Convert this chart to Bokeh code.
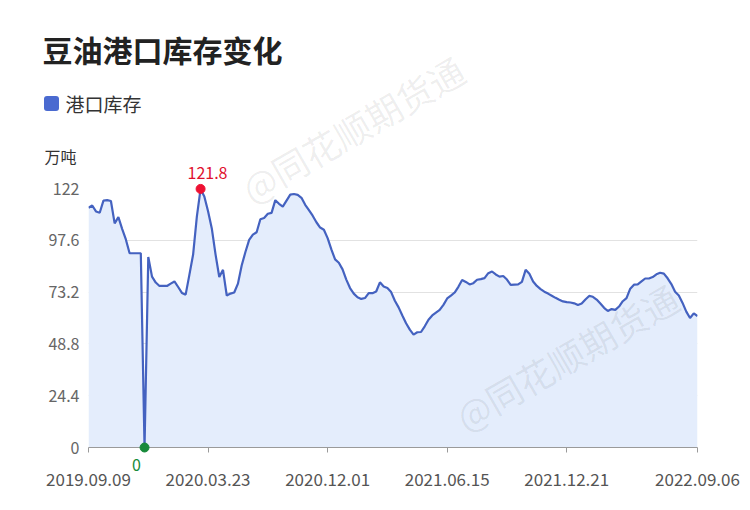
import math
from bokeh.plotting import figure
from bokeh.models import FixedTicker, NumeralTickFormatter, Range1d, Rect
from bokeh.core.properties import value
from bokeh.embed import file_html
from bokeh.resources import INLINE

title = "豆油港口库存变化"
series_name = "港口库存"
unit = "万吨"
watermark = "@同花顺期货通"
tick_idx = [0, 32, 64, 96, 128, 163]
tick_labels = ["2019.09.09", "2020.03.23", "2020.12.01", "2021.06.15", "2021.12.21", "2022.09.06"]
y_ticks = [0, 24.4, 48.8, 73.2, 97.6, 122]
values = [
    112.9, 114.0, 111.2, 110.6, 116.3, 116.5, 116.1, 105.6, 108.5, 103.0,
    98.0, 91.5, 91.5, 91.5, 91.5, 0.0, 89.7, 80.5, 77.7, 76.1,
    76.1, 76.1, 77.2, 78.2, 75.6, 72.8, 72.0, 81.3, 90.9, 108.8,
    121.8, 118.2, 111.3, 103.2, 91.0, 80.3, 83.7, 71.6, 72.5, 73.0,
    77.2, 85.7, 92.1, 97.8, 100.3, 101.4, 107.5, 108.1, 110.1, 110.5,
    116.5, 114.8, 113.5, 116.3, 119.1, 119.4, 119.0, 117.6, 114.3, 111.8,
    109.2, 106.1, 103.6, 102.6, 98.6, 93.3, 88.6, 87.0, 83.9, 79.1,
    75.1, 72.5, 70.8, 70.0, 70.4, 72.7, 72.7, 73.5, 77.8, 75.8,
    75.1, 73.2, 69.1, 66.0, 62.2, 58.5, 55.5, 53.2, 54.3, 54.4,
    57.1, 60.2, 62.2, 63.5, 64.8, 67.2, 70.2, 71.5, 73.0, 75.7,
    78.9, 78.0, 76.8, 77.4, 79.0, 79.3, 79.8, 82.1, 82.9, 81.5,
    80.5, 80.8, 79.1, 76.6, 76.7, 76.8, 78.0, 83.7, 81.8, 78.2,
    76.1, 74.6, 73.4, 72.5, 71.5, 70.5, 69.6, 68.8, 68.5, 68.3,
    67.9, 67.1, 67.8, 69.7, 71.4, 71.0, 69.7, 67.8, 65.8, 64.3,
    65.2, 64.8, 66.4, 68.9, 70.4, 74.8, 76.7, 76.8, 78.2, 79.6,
    79.6, 80.3, 81.6, 82.3, 81.9, 79.7, 77.0, 73.4, 71.6, 68.1,
    64.0, 61.0, 63.2, 61.9,
]
x = list(range(len(values)))
N = len(values)

FONT = "Noto Sans CJK SC"
W, H = 742, 502
FL, FR, FT, FB = 88, 45, 188, 55
FW, FH = W - FL - FR, H - FT - FB
YMAX = 122


def dx(px):
    # page x -> data x
    return (px - FL) / FW * (N - 1)


def dy(py):
    # page y -> data y
    return (FT + FH - py) / FH * YMAX


p = figure(width=W, height=H, output_backend="svg", toolbar_location=None,
           x_range=Range1d(0, N - 1), y_range=Range1d(0, YMAX),
           min_border_left=FL, min_border_right=FR, min_border_top=FT,
           min_border_bottom=FB)
p.outline_line_color = None
p.background_fill_color = "white"
p.border_fill_color = "white"
p.xgrid.visible = False
p.ygrid.ticker = FixedTicker(ticks=y_ticks)
p.ygrid.grid_line_color = "#e2e2e2"
p.ygrid.grid_line_width = 1

p.yaxis.ticker = FixedTicker(ticks=y_ticks)
p.yaxis.formatter = NumeralTickFormatter(format="0.[0]")
p.yaxis.axis_line_color = None
p.yaxis.major_tick_line_color = None
p.yaxis.minor_tick_line_color = None
p.yaxis.major_label_standoff = 3
p.yaxis.major_label_text_font = FONT
p.yaxis.major_label_text_font_size = "16px"
p.yaxis.major_label_text_color = "#666666"

p.xaxis.ticker = FixedTicker(ticks=tick_idx)
p.xaxis.major_label_overrides = {i: t for i, t in zip(tick_idx, tick_labels)}
p.xaxis.axis_line_color = "#9a9a9a"
p.xaxis.major_tick_line_color = "#9a9a9a"
p.xaxis.major_tick_out = 5
p.xaxis.major_tick_in = 0
p.xaxis.minor_tick_line_color = None
p.xaxis.major_label_standoff = 20
p.xaxis.major_label_text_font = FONT
p.xaxis.major_label_text_font_size = "17px"
p.xaxis.major_label_text_color = "#555555"

LINE = "#4462c0"
p.varea(x=x, y1=[0] * N, y2=values, fill_color="#e4edfc")
p.line(x=x, y=values, line_color=LINE, line_width=2.2)


def tx(px, py, text, size, color, align="left", bold=False, alpha=1.0, angle=0.0):
    p.text(x=[dx(px)], y=[dy(py)], text=[text], text_align=align,
           text_baseline="middle", text_font=value(FONT),
           text_font_size=f"{size}px",
           text_font_style="bold" if bold else "normal",
           text_color=color, text_alpha=alpha, angle=angle, level="overlay")


# watermarks
for (cx, cy) in [(352, 128), (566, 356)]:
    tx(cx, cy, watermark, 36, "#000000", align="center", alpha=0.07,
       angle=math.radians(30))

imax = max(range(N), key=lambda i: values[i])
imin = min(range(N), key=lambda i: values[i])
p.scatter(x=[imax], y=[values[imax]], size=9, fill_color="#ee1133",
          line_color="#ee1133", level="overlay")
p.scatter(x=[imin], y=[values[imin]], size=9, fill_color="#168a3a",
          line_color="#168a3a", level="overlay")

tx(207, 172, f"{values[imax]}", 16, "#e0102e", align="center")
tx(136, 464, f"{values[imin]:g}", 16, "#168a3a", align="center")

# title, legend, unit
tx(42, 48, title, 30, "#222222", bold=True)
rect_kw = dict(x=[dx(51)], y=[dy(103)], width=15, height=15,
               width_units="screen", height_units="screen",
               fill_color="#4a6ad0", line_color=None, level="overlay")
if "border_radius" in Rect.properties():
    rect_kw["border_radius"] = 3
p.rect(**rect_kw)
tx(65, 103, series_name, 19, "#333333")
tx(44, 155, unit, 16, "#333333")

open("out.html", "w").write(file_html(p, INLINE))
